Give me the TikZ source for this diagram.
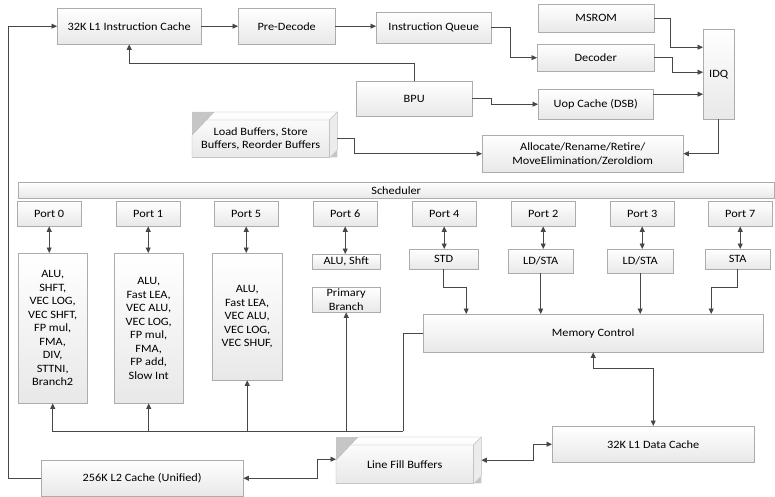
\documentclass[tikz,border=0pt]{standalone}
\usepackage{fontspec}
\setmainfont{Carlito}[FakeStretch=1.1]
\usetikzlibrary{positioning,shadows,arrows.meta,backgrounds}

\begin{document}
\begin{tikzpicture}[
		x=1pt, y=-1pt,
		every node/.style={font=\fontsize{11.2}{13.5}\selectfont},
		blk/.style  = {draw=gray!65, top color=white, bottom color=gray!18, anchor=north west, align=center, inner sep=1pt,
			drop shadow={shadow xshift=1.2pt, shadow yshift=-1.2pt, fill=gray!60, opacity=.5}},
		port/.style = {blk, minimum width=64pt, minimum height=25pt},
		unit/.style = {blk, inner sep=0pt},
		buf/.style  = {anchor=north west, align=center, inner sep=1pt, minimum width=137pt},
		wire/.style = {draw=black!72, line width=0.9pt},
		>={Triangle[length=5.5pt,width=5pt]}]
		
		\useasboundingbox (0,0) rectangle (775,497);
		
		% front end
		\node[blk, minimum width=144pt, minimum height=36pt] (l1i) at (57,8) {32K L1 Instruction Cache};
		\node[blk, minimum width=97pt, minimum height=36pt] (pd) at (238,8) {Pre-Decode};
		\node[blk, minimum width=115pt, minimum height=31pt] (iq) at (376,12) {Instruction Queue};
		\node[blk, minimum width=116pt, minimum height=28pt] (msrom) at (538,4) {MSROM};
		\node[blk, minimum width=117pt, minimum height=27pt] (dec) at (537,44) {Decoder};
		\node[blk, minimum width=31pt, minimum height=90pt] (idq) at (703,29) {IDQ};
		\node[blk, minimum width=115pt, minimum height=30pt] (uop) at (538,89) {Uop Cache (DSB)};
		\node[blk, minimum width=116pt, minimum height=35pt] (bpu) at (356,81) {BPU};
		\node[blk, minimum width=201pt, minimum height=37pt] (alloc) at (482,135) {Allocate/Rename/Retire/\\MoveElimination/ZeroIdiom};
		\node[buf, minimum height=37pt] (lb) at (192,120) {Load Buffers, Store\\Buffers, Reorder Buffers};
		
		% scheduler and ports
		\node[blk, minimum width=756pt, minimum height=16pt, inner sep=0pt] (sched) at (18,182) {Scheduler};
		\foreach \n/\x in {0/17,1/116,5/214,6/313,4/412,2/511,3/610,7/708}
		\node[port] (p\n) at (\x,201) {Port \n};
		
		% execution units
		\node[unit, minimum width=69pt, minimum height=150pt] (u0) at (18,253) {ALU,\\SHFT,\\VEC LOG,\\VEC SHFT,\\FP mul,\\FMA,\\DIV,\\STTNI,\\Branch2};
		\node[unit, minimum width=69pt, minimum height=150pt] (u1) at (114,253) {ALU,\\Fast LEA,\\VEC ALU,\\VEC LOG,\\FP mul,\\FMA,\\FP add,\\Slow Int};
		\node[unit, minimum width=70pt, minimum height=127pt] (u5) at (212,253) {ALU,\\Fast LEA,\\VEC ALU,\\VEC LOG,\\VEC SHUF,};
		\node[unit, minimum width=68pt, minimum height=15pt] (u6) at (312,254) {ALU, Shft};
		\node[unit, minimum width=68pt, minimum height=25pt] (br) at (312,287) {Primary\\Branch};
		\node[unit, minimum width=69pt, minimum height=20pt] (u4) at (409,249) {STD};
		\node[unit, minimum width=65pt, minimum height=24pt] (u2) at (508,249) {LD/STA};
		\node[unit, minimum width=66pt, minimum height=24pt] (u3) at (607,249) {LD/STA};
		\node[unit, minimum width=65pt, minimum height=20pt] (u7) at (705,249) {STA};
		
		% memory side
		\node[blk, minimum width=340pt, minimum height=38pt] (mc) at (423,314) {Memory Control};
		\node[blk, minimum width=202pt, minimum height=36pt] (l1d) at (552,426) {32K L1 Data Cache};
		\node[buf, minimum height=38pt] (lfb) at (336,445) {Line Fill Buffers};
		\node[blk, minimum width=202pt, minimum height=36pt] (l2) at (41,460) {256K L2 Cache (Unified)};
		
		% the two 3D buffer boxes
		\begin{scope}[on background layer]
		\foreach \bx in {lb,lfb} {
			\fill[gray!45] ([yshift=8pt]\bx.north west) -- ([xshift=22pt,yshift=8pt]\bx.north west) -- ([yshift=-15pt]\bx.north west) -- cycle;
			\fill[gray!45] (\bx.south east) -- ([xshift=8pt]\bx.south east) -- ([xshift=8pt,yshift=8pt]\bx.south east) -- cycle;
			\draw[gray!65, top color=white, bottom color=gray!18] ([yshift=-15pt]\bx.north west) -- ([xshift=22pt,yshift=8pt]\bx.north west)
			-- ([xshift=8pt,yshift=8pt]\bx.north east) -- ([xshift=8pt,yshift=8pt]\bx.south east) -- (\bx.south east) -- (\bx.south west) -- cycle;
			\fill[gray!15] (\bx.north east) -- ([xshift=8pt,yshift=8pt]\bx.north east) -- ([xshift=8pt,yshift=8pt]\bx.south east) -- (\bx.south east) -- cycle;
			\draw[gray!65] ([xshift=14pt]\bx.north west) -- (\bx.north east) -- (\bx.south east)
			(\bx.north east) -- ([xshift=8pt,yshift=8pt]\bx.north east);
		}
		\end{scope}
		
		% front end connections
		\draw[wire,->] (l1i) -- (pd);
		\draw[wire,->] (pd.east) -- (pd.east -| iq.west);
		\draw[wire,->] (iq.east) -- ++(19,0) |- (dec.west);
		\draw[wire,->] (msrom.east) -- ++(16,0) |- ([yshift=27pt]idq.west);
		\draw[wire,->] (dec.east) -- ++(18,0) |- ([yshift=2pt]idq.west);
		\draw[wire,->] ([yshift=10pt]uop.east) -- ([yshift=-20pt]idq.west);
		\draw[wire,->] (bpu.north) -- ++(0,-18) -| (l1i.south);
		\draw[wire,->] (bpu.east) -- ++(19,0) |- (uop.west);
		\draw[wire,->] (idq.south) |- (alloc.east);
		\draw[wire,->] ([xshift=8pt]lb.east) -- ++(17,0) |- (alloc.west);
		
		% ports to their units
		\foreach \n in {0,1,5,6,4,2,3,7}
		\draw[wire,<->] (p\n.south) -- (p\n.south |- u\n.north);
		
		% load/store units into memory control
		\draw[wire,->] (u4.south) -- ++(0,18) -| ([xshift=-127pt]mc.north);
		\draw[wire,->] (u2.south) -- (u2.south |- mc.north);
		\draw[wire,->] (u3.south) -- (u3.south |- mc.north);
		\draw[wire,->] (u7.south) -- ++(0,18) -| ([xshift=118pt]mc.north);
		
		% result bus back to the units
		\coordinate (bus) at (403,431);
		\draw[wire] (mc.west) -| (bus);
		\foreach \u in {u0,u1,u5,br}
		\draw[wire,->] (bus) -| (\u.south);
		
		% caches
		\draw[wire,<->] (mc.south) -- ++(0,16) -| (l1d.north);
		\draw[wire,<->] ([xshift=8pt,yshift=4pt]lfb.east) -- ++(52,0) |- (l1d.west);
		\draw[wire,<->] (l2.east) -- ++(74,0) |- ([yshift=5pt]lfb.west);
		\draw[wire,->] (l2.west) -- ++(-33,0) |- (l1i.west);
\end{tikzpicture}
\end{document}
